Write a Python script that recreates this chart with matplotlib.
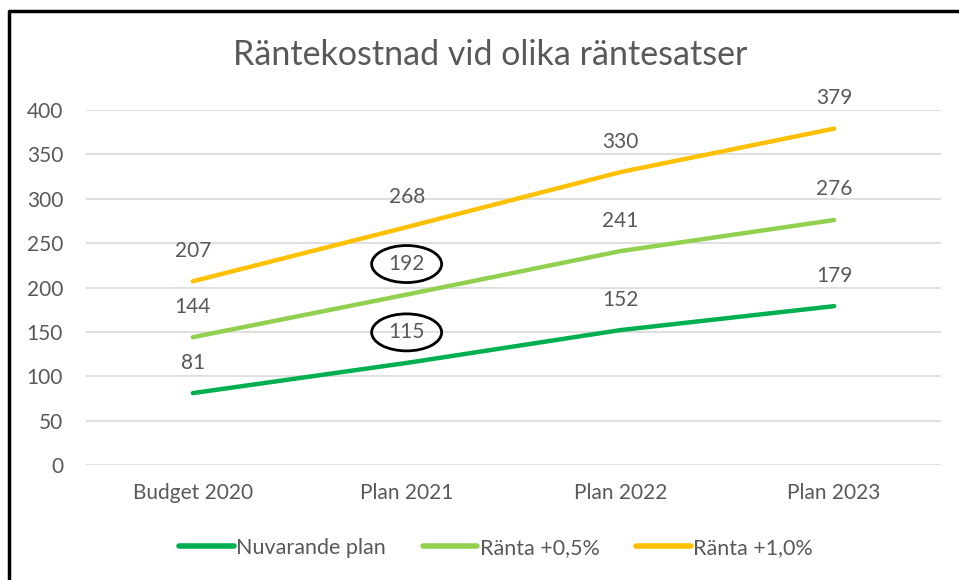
import matplotlib
matplotlib.use("Agg")
import matplotlib.pyplot as plt
from matplotlib.patches import Ellipse
from matplotlib.lines import Line2D

categories = ["Budget 2020", "Plan 2021", "Plan 2022", "Plan 2023"]
nuvarande = [81, 115, 152, 179]
ranta05 = [144, 192, 241, 276]
ranta10 = [207, 268, 330, 379]
series_names = ["Nuvarande plan", "Ränta +0,5%", "Ränta +1,0%"]
colors = ["#00B050", "#92D050", "#FFC000"]
yticks = [0, 50, 100, 150, 200, 250, 300, 350, 400]
circled = [(1, 192), (1, 115)]

plt.rcParams['font.family'] = ['Lato', 'DejaVu Sans']
txt = "#595959"

fig = plt.figure(figsize=(9.59, 5.8), dpi=100)
ax = fig.add_axes([86/959, 1-465/580, (941-86)/959, (465-110)/580])

x = list(range(len(categories)))
for vals, name, c in zip([nuvarande, ranta05, ranta10], series_names, colors):
    ax.plot(x, vals, color=c, lw=3.2, solid_capstyle='round', label=name, zorder=3)
    for xi, v in zip(x, vals):
        ax.annotate(str(v), (xi, v), xytext=(0, 22), textcoords='offset points',
                    ha='center', va='center', fontsize=15, color=txt, zorder=4)

ax.set_xlim(-0.5, 3.5)
ax.set_ylim(0, 400)
ax.set_yticks(yticks)
ax.set_xticks(x)
ax.set_xticklabels(categories)
ax.tick_params(axis='both', length=0, labelsize=15, labelcolor=txt)
ax.tick_params(axis='y', pad=16.5)
ax.tick_params(axis='x', pad=13)
ax.grid(axis='y', color='#D9D9D9', lw=1.2)
ax.set_axisbelow(True)
for s in ax.spines.values():
    s.set_visible(False)

# ellipses around circled labels
for xi, v in circled:
    pt = ax.transData.transform((xi, v))
    px, py = pt[0], pt[1] + 22/72*100
    ell = Ellipse((px, py), 70, 37, transform=None, fill=False,
                  edgecolor='black', lw=2, zorder=5)
    fig.add_artist(ell)

fig.text(490/959, 1-55/580, "Räntekostnad vid olika räntesatser", ha='center', va='center',
         fontsize=24.5, color=txt)

handles = [Line2D([0], [0], color=c, lw=4, solid_capstyle='round') for c in colors]
fig.legend(handles, series_names, loc='center', bbox_to_anchor=(496/959, 1-548/580),
           ncol=3, frameon=False, fontsize=15.5, labelcolor=txt, handlelength=2.55,
           handletextpad=0.1, columnspacing=1.7)

# border
fig.add_artist(Line2D([9/959, 9/959, 1], [0, 1-11/580, 1-11/580], transform=fig.transFigure,
                      color='black', lw=2.5))

fig.savefig("out.png", dpi=100)
